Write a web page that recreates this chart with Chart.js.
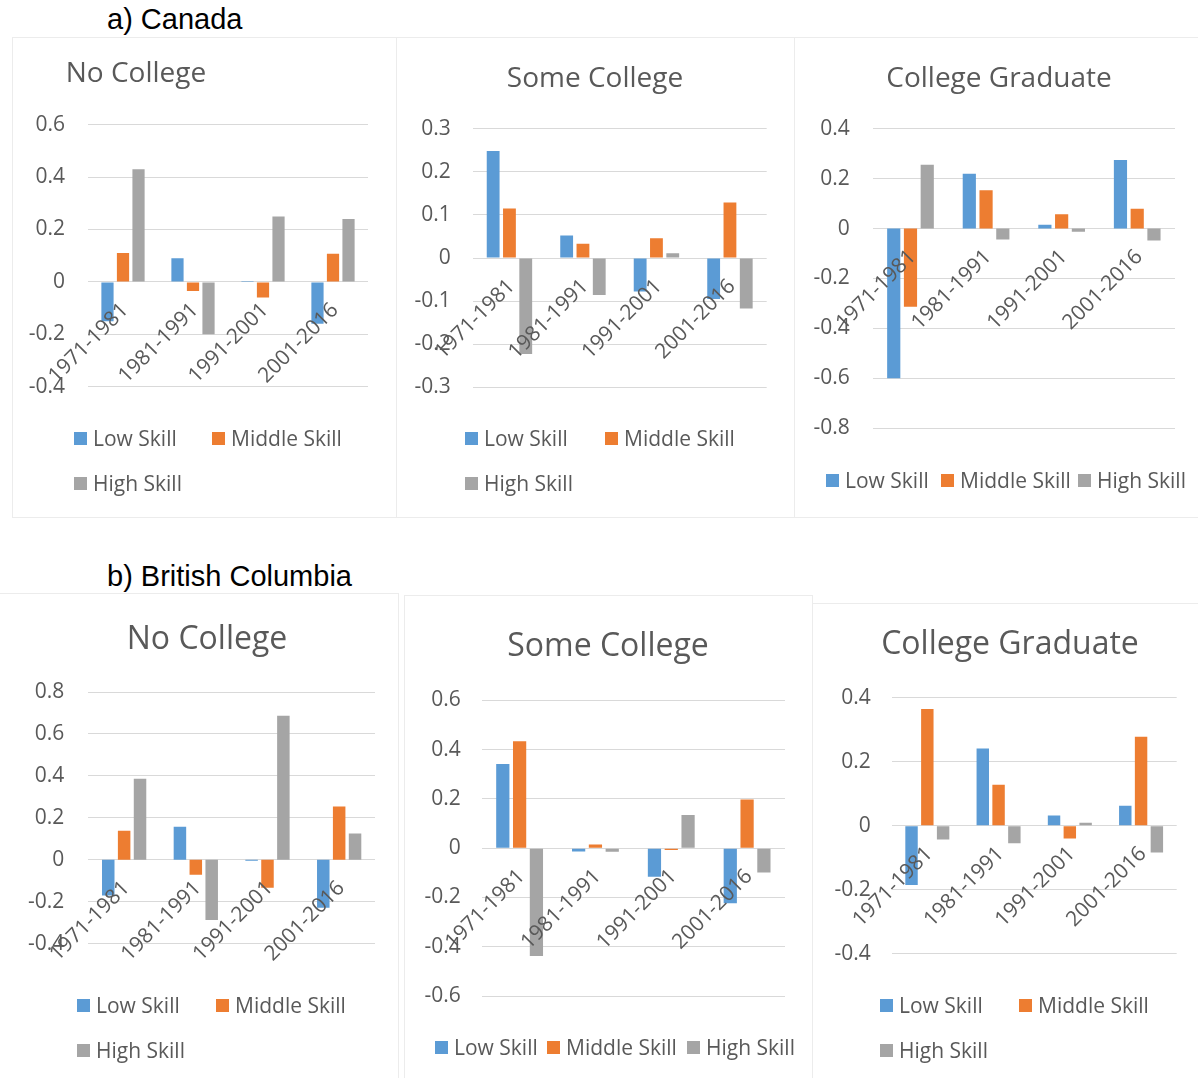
<!DOCTYPE html>
<html>
<head>
<meta charset="utf-8">
<title>Employment change by skill level and education</title>
<script src="https://cdn.jsdelivr.net/npm/chart.js@4.4.1/dist/chart.umd.min.js"></script>
<style>
  html, body { margin: 0; padding: 0; background: #fff; }
  body { position: relative; width: 1198px; height: 1078px; overflow: hidden; font-family: 'Open Sans', sans-serif; }
  .card { position: absolute; box-sizing: border-box; border: 1px solid #ececec; }
  canvas { position: absolute; }
  .section { position: absolute; font-family: 'Liberation Sans', Arial, sans-serif; font-size: 29px; line-height: 29px; color: #000; white-space: nowrap; }
  .ttl { position: absolute; width: 400px; text-align: center; color: #595959; white-space: nowrap; }
  .lg { position: absolute; display: flex; align-items: center; height: 26px; color: #595959; font-size: 21px; line-height: 26px; white-space: nowrap; }
  .lg i { display: inline-block; width: 13px; height: 13px; margin-right: 6px; }
</style>
</head>
<body>
<script>
// Period categories on the x axis
const periods = ['1971-1981', '1981-1991', '1991-2001', '2001-2016'];
const skillLabels = ['Low Skill', 'Middle Skill', 'High Skill'];
const skillColors = ['#5B9BD5', '#ED7D31', '#A5A5A5'];

// a) Canada
const caNoCollegeLow   = [-0.15, 0.09, 0.003, -0.16];
const caNoCollegeMid   = [0.11, -0.035, -0.06, 0.107];
const caNoCollegeHigh  = [0.43, -0.20, 0.25, 0.24];
const caSomeCollegeLow  = [0.248, 0.052, -0.078, -0.095];
const caSomeCollegeMid  = [0.115, 0.033, 0.046, 0.129];
const caSomeCollegeHigh = [-0.223, -0.086, 0.011, -0.117];
const caGraduateLow  = [-0.60, 0.22, 0.015, 0.275];
const caGraduateMid  = [-0.313, 0.153, 0.057, 0.079];
const caGraduateHigh = [0.256, -0.044, -0.013, -0.048];

// b) British Columbia
const bcNoCollegeLow   = [-0.17, 0.157, -0.005, -0.229];
const bcNoCollegeMid   = [0.138, -0.071, -0.133, 0.254];
const bcNoCollegeHigh  = [0.386, -0.287, 0.687, 0.125];
const bcSomeCollegeLow  = [0.341, -0.014, -0.116, -0.224];
const bcSomeCollegeMid  = [0.434, 0.015, -0.008, 0.197];
const bcSomeCollegeHigh = [-0.438, -0.015, 0.135, -0.099];
const bcGraduateLow  = [-0.185, 0.241, 0.032, 0.062];
const bcGraduateMid  = [0.365, 0.128, -0.040, 0.278];
const bcGraduateHigh = [-0.043, -0.055, 0.009, -0.084];

// Value axis ranges: [min, max, step]
const caNoCollegeRange   = [-0.4, 0.6, 0.2];
const caSomeCollegeRange = [-0.3, 0.3, 0.1];
const caGraduateRange    = [-0.8, 0.4, 0.2];
const bcNoCollegeRange   = [-0.4, 0.8, 0.2];
const bcSomeCollegeRange = [-0.6, 0.6, 0.2];
const bcGraduateRange    = [-0.4, 0.4, 0.2];

const TEXT = '#595959';
const GRID = '#d9d9d9';
const TICK_FONT = { family: 'Open Sans', size: 21 };

function tickText(v) {
  const r = Math.round(v * 10) / 10;
  return r === 0 ? '0' : String(r);
}

function addSection(text, left, top) {
  const d = document.createElement('div');
  d.className = 'section';
  d.textContent = text;
  d.style.left = left + 'px';
  d.style.top = top + 'px';
  document.body.appendChild(d);
}

function addCard(x, y, w, h) {
  const d = document.createElement('div');
  d.className = 'card';
  Object.assign(d.style, { left: x + 'px', top: y + 'px', width: w + 'px', height: h + 'px' });
  document.body.appendChild(d);
}

// Draws one clustered-bar panel: title, chart and legend
function drawPanel(p) {
  const b = p.box;
  const cv = document.createElement('canvas');
  cv.width = b.w; cv.height = b.h;
  cv.style.left = b.x + 'px'; cv.style.top = b.y + 'px';
  document.body.appendChild(cv);

  const series = [p.low, p.mid, p.high];
  new Chart(cv, {
    type: 'bar',
    data: {
      labels: periods,
      datasets: series.map((vals, i) => ({
        label: skillLabels[i],
        data: vals,
        backgroundColor: skillColors[i],
        borderWidth: 0,
        barPercentage: 0.787,
        categoryPercentage: 0.665
      }))
    },
    options: {
      responsive: false,
      animation: false,
      devicePixelRatio: 1,
      layout: {
        padding: {
          left: 0,
          top: b.pt - b.y,
          right: (b.x + b.w) - b.pr,
          bottom: (b.y + b.h) - b.pb
        }
      },
      plugins: { legend: { display: false }, tooltip: { enabled: false }, title: { display: false } },
      scales: {
        x: {
          position: { y: 0 },
          grid: { display: false },
          border: { display: false },
          ticks: {
            autoSkip: false, minRotation: 45, maxRotation: 45, padding: 8, labelOffset: 2, z: 1,
            color: TEXT, font: TICK_FONT
          }
        },
        y: {
          min: p.range[0], max: p.range[1],
          grid: { color: GRID, lineWidth: 1, drawTicks: false },
          border: { display: false },
          ticks: {
            stepSize: p.range[2], padding: b.gap,
            color: TEXT, font: TICK_FONT,
            callback: tickText
          },
          afterFit: (s) => { s.width = b.pl - b.x; }
        }
      }
    }
  });

  const t = document.createElement('div');
  t.className = 'ttl';
  t.textContent = p.title;
  t.style.fontSize = p.titleSize + 'px';
  t.style.lineHeight = p.titleSize + 'px';
  t.style.left = (p.titleX - 200) + 'px';
  t.style.top = (p.titleBase - 0.888 * p.titleSize) + 'px';
  document.body.appendChild(t);

  p.legend.forEach((pos, i) => {
    const d = document.createElement('div');
    d.className = 'lg';
    d.style.left = pos[0] + 'px';
    d.style.top = (pos[1] - 13) + 'px';
    const sw = document.createElement('i');
    sw.style.background = skillColors[i];
    d.appendChild(sw);
    d.appendChild(document.createTextNode(skillLabels[i]));
    document.body.appendChild(d);
  });
}

// Panel frames
addCard(12, 37, 385, 481);
addCard(396, 37, 399, 481);
addCard(794, 37, 410, 481);
addCard(-2, 593, 401, 490);
addCard(404, 595, 409, 488);
addCard(812, 603, 392, 480);

addSection('a) Canada', 107, 5);
addSection('b) British Columbia', 107, 562);

const panels = [
  { title: 'No College', titleSize: 28, titleX: 136, titleBase: 81.5,
    low: caNoCollegeLow, mid: caNoCollegeMid, high: caNoCollegeHigh, range: caNoCollegeRange,
    box: { x: 12, y: 37, w: 384, h: 480, pl: 88, pr: 368, pt: 124.7, pb: 386.7, gap: 23 },
    legend: [[74, 438], [212, 438], [74, 483]] },
  { title: 'Some College', titleSize: 28, titleX: 595, titleBase: 86.7,
    low: caSomeCollegeLow, mid: caSomeCollegeMid, high: caSomeCollegeHigh, range: caSomeCollegeRange,
    box: { x: 396, y: 37, w: 398, h: 480, pl: 472.7, pr: 766.7, pt: 128.7, pb: 387.3, gap: 22 },
    legend: [[465, 438], [605, 438], [465, 483]] },
  { title: 'College Graduate', titleSize: 28, titleX: 999, titleBase: 86.7,
    low: caGraduateLow, mid: caGraduateMid, high: caGraduateHigh, range: caGraduateRange,
    box: { x: 794, y: 37, w: 404, h: 480, pl: 872.7, pr: 1175, pt: 128.7, pb: 428.3, gap: 23 },
    legend: [[826, 480], [941, 480], [1078, 480]] },
  { title: 'No College', titleSize: 32, titleX: 207, titleBase: 649.3,
    low: bcNoCollegeLow, mid: bcNoCollegeMid, high: bcNoCollegeHigh, range: bcNoCollegeRange,
    box: { x: 12, y: 593, w: 386, h: 485, pl: 88.3, pr: 375, pt: 692, pb: 943.7, gap: 24 },
    legend: [[77, 1005], [216, 1005], [77, 1050]] },
  { title: 'Some College', titleSize: 32, titleX: 608, titleBase: 656.7,
    low: bcSomeCollegeLow, mid: bcSomeCollegeMid, high: bcSomeCollegeHigh, range: bcSomeCollegeRange,
    box: { x: 404, y: 595, w: 408, h: 483, pl: 481.7, pr: 785, pt: 700.3, pb: 996, gap: 21 },
    legend: [[435, 1047], [547, 1047], [687, 1047]] },
  { title: 'College Graduate', titleSize: 32, titleX: 1010, titleBase: 654,
    low: bcGraduateLow, mid: bcGraduateMid, high: bcGraduateHigh, range: bcGraduateRange,
    box: { x: 813, y: 603, w: 385, h: 475, pl: 891.7, pr: 1176.7, pt: 697.7, pb: 953.7, gap: 21 },
    legend: [[880, 1005], [1019, 1005], [880, 1050]] }
];

panels.forEach(drawPanel);
</script>
</body>
</html>
